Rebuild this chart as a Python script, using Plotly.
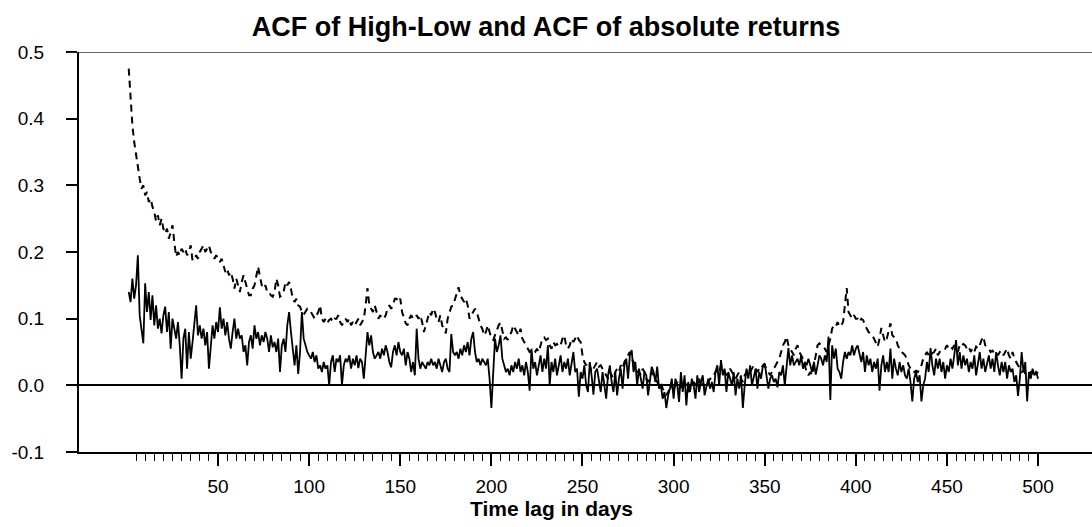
import plotly.graph_objects as go

lags = list(range(1, 501))

hl_acf = [
    0.475, 0.43, 0.39, 0.365, 0.345, 0.33, 0.31, 0.295, 0.30, 0.285,
    0.29, 0.275, 0.28, 0.268, 0.26, 0.246, 0.255, 0.24, 0.25, 0.235,
    0.228, 0.235, 0.22, 0.23, 0.24, 0.215, 0.193, 0.2, 0.195, 0.205,
    0.2, 0.205, 0.195, 0.2, 0.21, 0.187, 0.19, 0.195, 0.19, 0.2,
    0.205, 0.21, 0.2, 0.205, 0.21, 0.2, 0.195, 0.19, 0.195, 0.19,
    0.185, 0.19, 0.18, 0.17, 0.175, 0.165, 0.17, 0.16, 0.145, 0.16,
    0.15, 0.14, 0.155, 0.165, 0.155, 0.145, 0.135, 0.135, 0.145, 0.15,
    0.165, 0.178, 0.163, 0.15, 0.145, 0.15, 0.14, 0.14, 0.135, 0.133,
    0.14, 0.16, 0.15, 0.133, 0.135, 0.14, 0.155, 0.15, 0.155, 0.145,
    0.13, 0.125, 0.13, 0.12, 0.118, 0.11, 0.106, 0.11, 0.115, 0.113,
    0.11, 0.105, 0.1, 0.105, 0.11, 0.12, 0.1, 0.095, 0.1, 0.094,
    0.098, 0.1, 0.095, 0.1, 0.1, 0.105, 0.095, 0.09, 0.095, 0.1,
    0.095, 0.1, 0.09, 0.095, 0.09, 0.095, 0.1, 0.09, 0.095, 0.1,
    0.12, 0.146, 0.12, 0.115, 0.11, 0.12, 0.11, 0.1, 0.105, 0.1,
    0.1, 0.105, 0.115, 0.12, 0.115, 0.12, 0.13, 0.13, 0.125, 0.13,
    0.11, 0.1, 0.093, 0.09, 0.1, 0.105, 0.1, 0.1, 0.105, 0.1,
    0.105, 0.095, 0.08, 0.09, 0.1, 0.11, 0.105, 0.115, 0.11, 0.1,
    0.095, 0.105, 0.09, 0.085, 0.078, 0.1, 0.11, 0.118, 0.12, 0.13,
    0.14, 0.147, 0.135, 0.13, 0.125, 0.13, 0.12, 0.1, 0.105, 0.11,
    0.115, 0.11, 0.1, 0.09, 0.085, 0.075, 0.08, 0.09, 0.08, 0.07,
    0.068, 0.075, 0.085, 0.09, 0.094, 0.08, 0.07, 0.072, 0.068, 0.075,
    0.08, 0.09, 0.085, 0.08, 0.075, 0.085, 0.07, 0.065, 0.06, 0.055,
    0.05, 0.052, 0.048, 0.05, 0.055, 0.05, 0.06, 0.07, 0.072, 0.068,
    0.07, 0.06, 0.055, 0.065, 0.06, 0.062, 0.058, 0.06, 0.07, 0.075,
    0.06, 0.055, 0.06, 0.07, 0.065, 0.07, 0.075, 0.068, 0.065, 0.045,
    0.035, 0.03, 0.035, 0.03, 0.02, 0.025, 0.03, 0.035, 0.028, 0.03,
    0.025, 0.02, 0.015, 0.01, 0.02, 0.015, 0.01, 0.02, 0.025, 0.02,
    0.03, 0.025, 0.035, 0.04, 0.045, 0.05, 0.04, 0.035, 0.03, 0.02,
    0.02, 0.015, 0.025, 0.02, 0.01, 0.005, 0.015, 0.02, 0.015, 0.01,
    0.005, 0.0, 0.005, -0.005, -0.01, -0.015, -0.01, -0.005, 0.0, -0.01,
    0.0, 0.005, -0.005, 0.0, -0.005, 0.005, 0.0, -0.01, -0.005, 0.0,
    0.005, 0.0, 0.005, 0.01, 0.0, 0.005, -0.005, 0.0, 0.005, 0.01,
    0.01, 0.015, 0.02, 0.025, 0.02, 0.03, 0.025, 0.02, 0.015, 0.02,
    0.025, 0.02, 0.015, 0.01, 0.015, 0.02, 0.01, 0.005, 0.015, 0.02,
    0.025, 0.02, 0.025, 0.03, 0.025, 0.02, 0.025, 0.03, 0.028, 0.03,
    0.025, 0.02, 0.015, 0.02, 0.025, 0.03, 0.035, 0.04, 0.05, 0.06,
    0.065, 0.073, 0.06, 0.055, 0.05, 0.045, 0.055, 0.06, 0.05, 0.045,
    0.04, 0.03, 0.02, 0.015, 0.02, 0.015, 0.03, 0.05, 0.06, 0.063,
    0.06, 0.058, 0.055, 0.05, 0.06, 0.07, 0.085, 0.09, 0.088, 0.095,
    0.088, 0.09, 0.095, 0.126, 0.146, 0.11, 0.105, 0.1, 0.105, 0.1,
    0.1, 0.095, 0.1, 0.098, 0.09, 0.085, 0.08, 0.078, 0.075, 0.07,
    0.065, 0.058, 0.07, 0.086, 0.075, 0.065, 0.07, 0.08, 0.093, 0.075,
    0.073, 0.07, 0.06, 0.055, 0.05, 0.048, 0.045, 0.04, 0.03, 0.025,
    0.025, 0.02, 0.022, 0.02, 0.025, 0.03, 0.04, 0.045, 0.05, 0.045,
    0.05, 0.048, 0.05, 0.055, 0.045, 0.05, 0.052, 0.055, 0.055, 0.06,
    0.055, 0.058, 0.055, 0.06, 0.055, 0.05, 0.06, 0.058, 0.062, 0.06,
    0.055, 0.058, 0.05, 0.055, 0.05, 0.058, 0.055, 0.06, 0.068, 0.073,
    0.06, 0.058, 0.055, 0.05, 0.052, 0.048, 0.05, 0.045, 0.05, 0.052,
    0.045, 0.05, 0.055, 0.045, 0.04, 0.05, 0.04, 0.035, 0.03, 0.025,
    0.02, 0.022, 0.018, 0.02, 0.015, 0.02, 0.018, 0.015, 0.02, 0.018,
]

abs_acf = [
    0.14, 0.125, 0.16, 0.13, 0.15, 0.195, 0.105, 0.085, 0.063, 0.153,
    0.11, 0.14, 0.098, 0.135, 0.09, 0.12, 0.085, 0.1, 0.078, 0.105,
    0.118, 0.08, 0.11, 0.055, 0.1, 0.085, 0.07, 0.095, 0.06, 0.01,
    0.07, 0.085, 0.025, 0.08, 0.04, 0.065, 0.09, 0.12, 0.075, 0.09,
    0.07, 0.085, 0.06, 0.08, 0.025, 0.06, 0.09, 0.07, 0.095, 0.08,
    0.117, 0.085, 0.1, 0.075, 0.095, 0.07, 0.055, 0.08, 0.1, 0.07,
    0.085, 0.07, 0.075, 0.05, 0.06, 0.03, 0.065, 0.075, 0.055, 0.09,
    0.07, 0.08, 0.06, 0.075, 0.065, 0.08, 0.07, 0.05, 0.075, 0.057,
    0.065, 0.05, 0.07, 0.02, 0.06, 0.07, 0.05, 0.09, 0.11, 0.08,
    0.05, 0.03, 0.06, 0.017, 0.05, 0.11, 0.07, 0.06, 0.05, 0.045,
    0.04, 0.05, 0.035, 0.045, 0.025, 0.03, 0.02, 0.035, 0.025, 0.03,
    0.0, 0.035, 0.045, 0.02, 0.04, 0.035, 0.045, 0.0, 0.03, 0.04,
    0.035, 0.045, 0.025, 0.04, 0.03, 0.045, 0.026, 0.04, 0.035, 0.01,
    0.05, 0.08, 0.06, 0.075, 0.05, 0.04, 0.045, 0.05, 0.04, 0.055,
    0.045, 0.06, 0.05, 0.035, 0.027, 0.05, 0.06, 0.045, 0.065, 0.05,
    0.045, 0.055, 0.03, 0.05, 0.04, 0.02, 0.035, 0.015, 0.085, 0.04,
    0.025, 0.035, 0.03, 0.025, 0.035, 0.03, 0.04, 0.03, 0.035, 0.025,
    0.04, 0.03, 0.02, 0.035, 0.04, 0.025, 0.02, 0.077, 0.05, 0.045,
    0.05, 0.04, 0.055, 0.045, 0.06, 0.05, 0.065, 0.045, 0.07, 0.08,
    0.05, 0.035, 0.04, 0.03, 0.04, 0.035, 0.03, 0.04, 0.01, -0.034,
    0.03, 0.07, 0.05, 0.06, 0.075, 0.04, 0.03, 0.02, 0.025, 0.015,
    0.03, 0.02, 0.035, 0.025, 0.04, 0.02, 0.03, 0.015, 0.035, 0.02,
    -0.008, 0.055, 0.025, 0.035, 0.015, 0.03, 0.045, 0.02, 0.04, 0.025,
    0.06, 0.0, 0.035, 0.02, 0.04, 0.015, 0.03, 0.045, 0.02, 0.035,
    0.025, 0.04, 0.015, 0.03, 0.05, 0.02, 0.025, -0.017, 0.02, 0.01,
    0.03, 0.0, -0.01, 0.035, 0.015, -0.014, 0.02, 0.025, 0.005, -0.01,
    0.02, 0.0, -0.02, 0.015, 0.03, 0.005, -0.01, 0.02, -0.015, 0.01,
    0.025, -0.005, 0.03, 0.04, 0.01, 0.045, 0.053, 0.02, 0.035, 0.0,
    0.025, 0.01, -0.005, 0.02, 0.015, -0.015, 0.01, 0.028, 0.02, 0.005,
    0.028, -0.005, 0.0, -0.02, -0.01, -0.034, -0.015, -0.005, 0.01, -0.02,
    0.01, 0.0, -0.025, 0.02, -0.01, 0.015, -0.03, 0.005, -0.01, 0.01,
    0.0, -0.02, 0.015, -0.01, 0.005, 0.015, -0.015, 0.0, 0.01, -0.005,
    0.005, -0.01, 0.02, 0.03, 0.0, 0.038, 0.015, 0.025, -0.01, 0.02,
    0.01, 0.0, 0.02, -0.015, 0.01, -0.005, 0.015, -0.034, 0.0, 0.025,
    0.01, 0.03, 0.0, 0.015, 0.025, -0.005, 0.02, 0.01, 0.03, 0.033,
    0.01, -0.005, 0.01, 0.015, 0.005, 0.01, -0.003, 0.02, 0.015, 0.03,
    0.0, 0.025, 0.056, 0.03, 0.045, 0.03, 0.035, 0.04, 0.03, 0.045,
    0.025, 0.035, 0.03, 0.04, 0.03, 0.02, 0.035, 0.016, 0.03, 0.045,
    0.04, 0.03, 0.045, 0.035, 0.073, -0.022, 0.06, 0.04, 0.055, 0.025,
    0.02, 0.01, 0.035, 0.05, 0.04, 0.05, 0.045, 0.06, 0.045, 0.055,
    0.06, 0.045, 0.035, 0.05, 0.02, 0.045, 0.03, 0.04, 0.02, 0.035,
    0.025, 0.04, -0.008, 0.03, 0.045, 0.02, 0.035, 0.02, 0.055, 0.01,
    0.04, 0.025, 0.015, 0.035, 0.02, 0.03, 0.015, 0.01, 0.025, 0.005,
    -0.024, 0.01, 0.02, 0.005, 0.015, -0.024, 0.0, 0.01, 0.035, 0.02,
    0.056, 0.03, 0.015, 0.04, 0.025, 0.04, 0.02, 0.035, 0.01, 0.03,
    0.02, 0.04, 0.025, 0.045, 0.068, 0.03, 0.05, 0.025, 0.045, 0.03,
    0.04, 0.02, 0.035, 0.025, 0.045, 0.015, 0.03, 0.05, 0.025, 0.04,
    0.02, 0.035, 0.045, 0.025, 0.04, 0.02, 0.05, 0.03, 0.015, 0.035,
    0.02, 0.035, 0.01, 0.03, 0.02, 0.025, 0.005, 0.015, -0.016, 0.01,
    0.05, 0.02, 0.035, -0.024, 0.02, 0.01, 0.025, 0.015, 0.02, 0.01,
]

x_major = [50, 100, 150, 200, 250, 300, 350, 400, 450, 500]
x_minor = [v for v in range(5, 500, 5) if v % 50 != 0]
y_ticks = [-0.1, 0.0, 0.1, 0.2, 0.3, 0.4, 0.5]
y_labels = ["-0.1", "0.0", "0.1", "0.2", "0.3", "0.4", "0.5"]

FONT = "Arial, Liberation Sans, sans-serif"

fig = go.Figure()
fig.add_trace(go.Scatter(
    x=lags, y=hl_acf, mode="lines", name="ACF of High-Low",
    line=dict(color="black", width=2, dash="7px,5px"),
))
fig.add_trace(go.Scatter(
    x=lags, y=abs_acf, mode="lines", name="ACF of absolute returns",
    line=dict(color="black", width=1.8),
))

fig.update_layout(
    width=1092, height=527,
    margin=dict(l=79, r=0, t=52, b=75),
    paper_bgcolor="white", plot_bgcolor="white",
    showlegend=False,
    font=dict(family=FONT, color="black", size=19),
    title=dict(
        text="ACF of High-Low and ACF of absolute returns",
        font=dict(family=FONT, size=27, weight="bold", color="black"),
        x=0.5, xref="container", xanchor="center",
        y=1 - 27 / 527, yref="container", yanchor="middle",
    ),
    xaxis=dict(
        range=[-26.3, 529.6],
        showgrid=False, zeroline=False,
        showline=True, linecolor="black", linewidth=2,
        tickmode="array", tickvals=x_major,
        ticktext=[str(v) for v in x_major],
        ticks="outside", ticklen=12, tickwidth=1.5, tickcolor="black",
        ticklabelstandoff=4,
        tickfont=dict(family=FONT, size=19, color="black"),
        minor=dict(tickmode="array", tickvals=x_minor, ticks="outside",
                   ticklen=7, tickwidth=1.3, tickcolor="black", showgrid=False),
    ),
    yaxis=dict(
        range=[-0.1, 0.5],
        showgrid=False,
        zeroline=True, zerolinecolor="black", zerolinewidth=2,
        showline=True, linecolor="black", linewidth=2,
        tickmode="array", tickvals=y_ticks, ticktext=y_labels,
        ticks="outside", ticklen=11, tickwidth=1.5, tickcolor="black",
        ticklabelstandoff=18,
        tickfont=dict(family=FONT, size=19, color="black"),
    ),
)

# top frame line at 0.5 and left extension of the bottom axis
fig.add_shape(type="line", xref="paper", yref="y", x0=-0.011, x1=1, y0=0.5, y1=0.5,
              line=dict(color="#333333", width=1.5))
fig.add_shape(type="line", xref="paper", yref="y", x0=-0.011, x1=0, y0=-0.1, y1=-0.1,
              line=dict(color="black", width=2))

fig.add_annotation(
    text="Time lag in days", xref="paper", yref="paper",
    x=(551 - 79) / 1013, y=(452 - 508) / 400,
    xanchor="center", yanchor="middle", showarrow=False,
    font=dict(family=FONT, size=21, weight="bold", color="black"),
)

fig.write_html("out.html")
